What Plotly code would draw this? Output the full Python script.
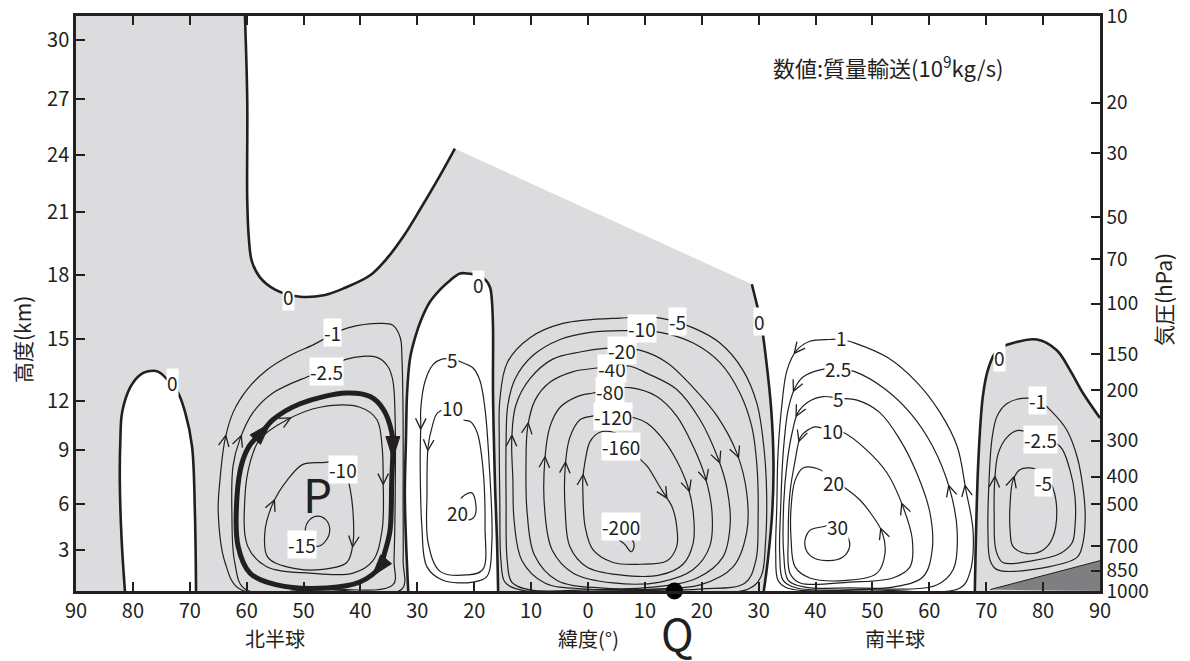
import math
import plotly.graph_objects as go

FONT = "Noto Sans CJK JP, Noto Sans, sans-serif"
INK = "#231f20"
GRAY = "#dcdcde"
DARK = "#7f7f82"
Z_TOP = 7.0 * math.log(100.0)   # log-pressure height of 10 hPa (H = 7 km)

# ---------------- axes ----------------
lat_ticks = [90, 80, 70, 60, 50, 40, 30, 20, 10, 0, -10, -20, -30, -40, -50, -60, -70, -80, -90]
lat_ticktext = [str(abs(v)) for v in lat_ticks]
km_labels = [3, 6, 9, 12, 15, 18, 21, 24, 27, 30]
km_label_z = [2.30, 4.88, 7.91, 10.66, 14.13, 17.72, 21.26, 24.45, 27.59, 30.90]
p_labels = [1000, 850, 700, 500, 400, 300, 200, 150, 100, 70, 50, 30, 20, 10]

# ---------------- zero contours (lat N+, log-p height km) ----------------
ZERO_NPOLE = [(81.4, 0), (82.0, 3.0), (82.3, 6.2), (82.2, 8.5), (81.9, 10.0), (80.5, 11.4), (78.8, 12.1),
              (77.5, 12.3), (75.6, 12.3), (73.5, 11.7), (72.2, 11.2), (70.8, 10.0), (69.6, 8.1), (69.1, 4.4), (68.9, 0)]
ZERO_UPPER = [(60.3, 32.25), (59.9, 27.5), (59.9, 21.9), (59.6, 19.7), (59.1, 18.5), (57.7, 17.6), (55.0, 16.9),
              (50.6, 16.5), (46.2, 16.6), (42.7, 17.0), (38.3, 17.7), (35.2, 18.7), (32.2, 20.0), (29.5, 21.4),
              (26.0, 23.3), (23.4, 24.8)]
ZERO_HADLEY_S = [(-28.8, 17.2), (-29.5, 16.3), (-30.4, 15.1), (-31.3, 13.0), (-32.2, 10.2), (-32.6, 7.3),
                 (-32.4, 4.5), (-31.6, 1.7), (-30.9, 0)]
ZERO_SPOLE = [(-68.0, 0), (-68.6, 7.2), (-69.4, 10.9), (-70.3, 12.4), (-71.9, 13.5), (-74.7, 13.9), (-78.9, 14.1),
              (-82.4, 13.5), (-84.7, 12.4), (-87.0, 11.1), (-90.0, 9.7)]
ZERO_30N = [(31.6, 0), (32.0, 2.9), (32.2, 5.5), (32.0, 8.5), (31.8, 11.1), (31.3, 13.0), (30.4, 14.2), (29.2, 15.3),
            (27.8, 16.2), (26.0, 16.9), (24.3, 17.4), (22.5, 17.8), (21.3, 17.8), (19.5, 17.7), (17.9, 17.4),
            (17.2, 17.0), (16.9, 16.3), (16.7, 14.8), (16.7, 11.1), (16.5, 7.9), (16.3, 5.5), (16.0, 2.9), (15.8, 0)]
TOPO = [(-70.7, 0.08), (-90.0, 1.7), (-90.0, 0.0)]

# ---------------- NH Ferrel cell ----------------
NHF_M1 = [(61.2, 0.11), (63.8, 1.6), (65.0, 4.4), (64.7, 6.2), (63.8, 8.5), (62.4, 10.0), (59.9, 11.3), (56.4, 12.4),
          (52.4, 13.2), (48.3, 13.8), (45.4, 14.3), (42.2, 14.75), (36.6, 15.0), (34.3, 14.9), (33.0, 14.2),
          (32.7, 13.0), (32.5, 9.6), (32.5, 5.1), (32.5, 1.7), (32.7, 0.11), (46.0, 0.08), (61.2, 0.11)]
NHF_M25 = [(60.3, 0.11), (62.1, 1.6), (62.6, 4.4), (62.4, 7.0), (61.2, 8.5), (58.9, 10.0), (55.4, 11.1), (49.4, 12.0),
           (45.9, 12.4), (42.4, 13.0), (37.1, 13.1), (35.2, 12.6), (34.3, 11.8), (33.9, 9.6), (33.9, 5.1),
           (34.1, 1.7), (34.3, 0.34), (47.0, 0.12), (60.3, 0.11)]
NHF_THICK = [(60.8, 7.2), (59.4, 8.2), (57.3, 8.9), (55.4, 9.6), (50.6, 10.5), (42.4, 11.1), (38.3, 10.9),
             (36.0, 10.2), (34.5, 8.9), (34.3, 8.1), (34.5, 6.2), (34.8, 3.4), (35.7, 2.2), (36.6, 1.35),
             (40.1, 0.5), (45.9, 0.17), (54.7, 0.34), (59.4, 1.0), (61.5, 2.5), (61.7, 5.3), (60.8, 7.2)]
NHF_M5 = [(59.4, 7.2), (57.7, 8.5), (52.9, 9.6), (47.1, 10.3), (40.1, 10.3), (37.1, 9.6), (36.2, 8.1), (36.0, 6.2),
          (36.2, 3.4), (37.8, 1.7), (41.3, 1.0), (48.9, 1.0), (56.4, 1.35), (59.8, 2.5), (60.3, 5.3), (59.4, 7.2)]
NHF_M10 = [(56.3, 1.9), (56.8, 3.3), (55.4, 4.9), (52.9, 6.2), (50.1, 7.1), (46.6, 7.2), (44.1, 7.2), (42.4, 6.4),
           (41.8, 5.7), (41.3, 4.4), (41.3, 2.7), (42.4, 1.6), (47.1, 1.2), (52.9, 1.35), (56.3, 1.9)]
NHF_M15 = [(49.7, 3.4), (48.9, 4.0), (47.5, 4.2), (46.1, 4.0), (45.4, 3.5), (45.9, 2.9), (47.5, 2.5), (48.9, 2.7),
           (49.7, 3.4)]

# ---------------- 30N positive cell ----------------
C30N_5 = [(21.3, 12.7), (23.9, 13.0), (25.7, 13.0), (27.2, 12.7), (28.6, 11.8), (29.4, 10.2), (29.4, 9.3),
          (29.5, 7.3), (29.2, 3.6), (28.3, 1.35), (25.5, 0.6), (20.2, 0.5), (17.8, 0.8), (16.9, 2.7), (17.4, 7.3),
          (18.1, 10.2), (19.0, 11.8), (20.2, 12.5), (21.3, 12.7)]
C30N_10 = [(22.0, 9.6), (23.9, 10.2), (26.4, 10.0), (27.4, 9.2), (28.1, 8.1), (28.3, 5.5), (28.1, 2.7), (26.0, 1.1),
           (21.3, 0.9), (18.5, 1.2), (18.1, 3.6), (18.5, 7.0), (19.5, 8.9), (20.7, 9.5), (22.0, 9.6)]
C30N_20 = [(22.5, 5.1), (21.6, 5.4), (20.4, 5.5), (19.7, 4.8), (19.9, 4.2), (20.7, 4.0), (22.2, 4.1), (22.9, 4.5),
           (22.5, 5.1)]

# ---------------- Hadley cell ----------------
H_M5 = [(11.9, 0.06), (14.6, 0.5), (15.3, 1.7), (15.5, 5.1), (15.6, 8.5), (15.5, 10.7), (14.2, 12.8), (10.2, 14.2),
        (4.4, 15.0), (-5.6, 15.3), (-12.7, 15.3), (-18.5, 14.75), (-23.2, 13.9), (-27.2, 12.4), (-29.7, 10.5),
        (-30.9, 8.1), (-31.4, 5.5), (-31.2, 2.7), (-30.4, 0.8), (-28.1, 0.1), (-9.1, 0.04), (11.9, 0.06)]
H_M10 = [(10.2, 0.06), (13.4, 0.5), (14.2, 1.7), (14.4, 5.1), (14.4, 8.3), (14.1, 10.4), (12.8, 11.9), (9.7, 13.2),
         (4.9, 14.1), (-0.4, 14.5), (-6.1, 14.6), (-12.7, 14.5), (-18.5, 13.9), (-23.2, 12.8), (-26.7, 11.1),
         (-28.8, 9.2), (-29.7, 7.0), (-29.9, 4.0), (-29.5, 1.7), (-27.6, 0.45), (-19.7, 0.11), (-2.1, 0.08),
         (10.2, 0.06)]
H_M20 = [(0.2, 0.11), (7.6, 0.45), (11.6, 1.7), (13.0, 4.0), (13.2, 6.2), (13.4, 8.5), (12.7, 10.4), (10.2, 11.9),
         (6.2, 13.0), (1.4, 13.4), (-3.0, 13.6), (-6.0, 13.6), (-9.1, 13.5), (-13.9, 12.8), (-18.5, 11.4),
         (-22.7, 9.8), (-26.2, 7.7), (-27.9, 5.5), (-27.9, 3.3), (-25.5, 1.35), (-19.7, 0.34), (-11.4, 0.11),
         (0.2, 0.11)]
H_M40 = [(-2.1, 0.17), (5.5, 0.6), (9.4, 2.0), (10.7, 4.4), (10.9, 7.0), (10.6, 9.2), (9.3, 10.7), (6.7, 11.7),
         (2.6, 12.3), (-1.6, 12.5), (-4.2, 12.6), (-7.4, 12.6), (-10.4, 12.2), (-15.6, 11.3), (-19.7, 9.6),
         (-22.9, 7.4), (-24.4, 5.8), (-25.0, 3.8), (-23.7, 1.9), (-19.2, 0.73), (-11.4, 0.22), (-2.1, 0.17)]
H_M80 = [(-4.4, 0.45), (2.6, 1.0), (6.3, 2.3), (7.6, 4.5), (7.6, 7.3), (6.7, 9.2), (4.9, 10.3), (1.9, 10.9),
         (-0.9, 11.1), (-3.9, 11.3), (-7.4, 11.4), (-12.1, 10.9), (-15.6, 9.8), (-18.5, 8.1), (-20.6, 6.4),
         (-21.8, 4.4), (-21.4, 2.5), (-18.5, 1.2), (-12.7, 0.5), (-4.4, 0.45)]
H_M120 = [(-5.6, 0.9), (0.2, 1.35), (3.2, 2.5), (4.0, 4.5), (4.0, 7.0), (3.2, 8.6), (1.4, 9.6), (-0.7, 9.8),
          (-4.4, 9.85), (-8.3, 9.7), (-10.4, 9.4), (-13.2, 8.5), (-15.6, 7.3), (-17.6, 5.8), (-18.5, 4.4),
          (-18.5, 2.7), (-16.7, 1.5), (-12.7, 0.9), (-5.6, 0.9)]
H_M160 = [(-4.4, 1.6), (-0.9, 2.3), (0.5, 3.6), (0.9, 5.5), (0.9, 6.3), (0.5, 7.3), (-0.4, 8.4), (-2.1, 8.9),
          (-4.4, 8.9), (-6.5, 8.5), (-8.8, 7.5), (-10.4, 7.0), (-12.7, 5.8), (-13.5, 5.4), (-14.8, 4.7),
          (-15.6, 3.6), (-15.6, 2.5), (-13.9, 1.7), (-9.1, 1.5), (-4.4, 1.6)]
H_M200 = [(-5.1, 3.0), (-6.5, 2.6), (-7.6, 2.2), (-8.1, 2.5), (-7.7, 2.9), (-6.3, 3.1), (-5.1, 3.0)]

# ---------------- SH positive cell ----------------
S_1 = [(-65.4, 0.17), (-67.1, 1.0), (-67.7, 3.3), (-66.4, 5.7), (-64.9, 8.1), (-61.9, 10.0), (-57.8, 11.7),
       (-52.6, 13.1), (-46.9, 13.9), (-44.6, 14.1), (-42.5, 14.1), (-39.0, 14.0), (-36.7, 13.5), (-35.0, 12.4),
       (-34.1, 10.5), (-33.4, 7.7), (-33.2, 4.9), (-33.0, 2.1), (-33.4, 0.6), (-35.0, 0.17), (-49.6, 0.06),
       (-65.4, 0.17)]
S_25 = [(-61.3, 0.34), (-64.2, 1.2), (-64.9, 3.3), (-63.6, 5.7), (-60.6, 8.1), (-56.6, 10.0), (-51.9, 11.4),
        (-46.9, 12.3), (-43.9, 12.5), (-40.8, 12.4), (-37.8, 12.0), (-36.4, 11.4), (-35.2, 10.2), (-34.3, 7.7),
        (-33.9, 4.9), (-33.7, 2.1), (-34.3, 0.6), (-36.7, 0.17), (-49.6, 0.11), (-61.3, 0.34)]
S_5 = [(-53.6, 0.22), (-58.9, 0.8), (-60.5, 2.3), (-60.1, 4.4), (-57.8, 6.6), (-54.8, 8.5), (-51.3, 10.0),
       (-47.3, 10.7), (-44.1, 10.8), (-41.3, 10.9), (-38.7, 10.6), (-36.9, 10.0), (-35.9, 8.9), (-35.0, 7.2),
       (-34.4, 4.9), (-34.4, 2.1), (-35.2, 0.6), (-38.1, 0.22), (-46.0, 0.17), (-53.6, 0.22)]
S_10 = [(-53.6, 0.73), (-56.6, 1.35), (-57.0, 2.9), (-55.4, 4.7), (-52.6, 6.6), (-49.0, 7.9), (-44.8, 8.9),
        (-42.5, 9.0), (-39.9, 9.2), (-38.1, 8.9), (-37.3, 8.6), (-36.4, 7.3), (-35.5, 5.5), (-35.2, 3.0),
        (-35.5, 1.0), (-37.3, 0.45), (-46.0, 0.5), (-53.6, 0.73)]
S_20 = [(-50.8, 1.0), (-52.2, 2.1), (-51.7, 3.3), (-49.6, 4.4), (-47.8, 5.1), (-45.5, 5.7), (-43.1, 6.2),
        (-40.8, 6.8), (-37.8, 6.9), (-36.4, 6.2), (-35.7, 4.7), (-35.7, 2.9), (-36.4, 1.35), (-39.0, 0.73),
        (-45.5, 0.6), (-50.8, 1.0)]
S_30 = [(-41.3, 3.6), (-39.0, 3.4), (-38.1, 2.7), (-39.0, 2.0), (-42.0, 1.7), (-44.8, 1.9), (-46.0, 2.5),
        (-45.7, 3.0), (-43.6, 3.75), (-41.3, 3.6)]

# ---------------- SH polar cell ----------------
P_M1 = [(-70.7, 1.7), (-70.3, 3.4), (-70.5, 6.2), (-71.0, 8.5), (-71.9, 9.8), (-73.6, 10.5), (-76.3, 10.8),
        (-79.1, 10.7), (-81.7, 10.0), (-84.2, 9.0), (-86.0, 7.5), (-87.0, 5.8), (-87.4, 4.2), (-87.0, 2.7),
        (-86.0, 1.9), (-80.0, 1.3), (-71.9, 1.2), (-70.7, 1.7)]
P_M25 = [(-71.7, 2.3), (-71.4, 4.2), (-71.5, 6.2), (-72.1, 7.7), (-73.6, 8.6), (-75.6, 9.0), (-79.5, 8.6),
         (-83.0, 8.1), (-84.7, 6.8), (-85.6, 5.3), (-85.6, 3.6), (-85.1, 2.7), (-83.0, 2.1), (-78.2, 1.7),
         (-72.9, 1.6), (-71.7, 2.3)]
P_M5 = [(-74.7, 2.5), (-74.2, 3.4), (-74.2, 4.9), (-74.7, 6.2), (-75.9, 6.8), (-77.7, 6.9), (-80.3, 6.6),
        (-81.7, 5.8), (-82.4, 4.5), (-81.7, 3.0), (-80.0, 2.3), (-77.2, 2.1), (-74.7, 2.5)]

THIN_CONTOURS = [NHF_M1, NHF_M25, NHF_M5, NHF_M10, NHF_M15, C30N_5, C30N_10, C30N_20,
                 H_M5, H_M10, H_M20, H_M40, H_M80, H_M120, H_M160, H_M200,
                 S_1, S_25, S_5, S_10, S_20, S_30, P_M1, P_M25, P_M5]

# flow arrows: (contour, vertex index); direction follows the vertex order
THIN_ARROWS = [(NHF_M1, 4), (NHF_M25, 4), (NHF_M5, 2), (NHF_M5, 7), (NHF_M10, 2), (NHF_M10, 10),
               (C30N_5, 6), (C30N_10, 4),
               (H_M20, 5), (H_M20, 16), (H_M40, 5), (H_M40, 15), (H_M80, 4), (H_M80, 14),
               (H_M120, 4), (H_M120, 13), (H_M160, 4), (H_M160, 13),
               (S_1, 12), (S_1, 3), (S_25, 11), (S_25, 3), (S_5, 11), (S_10, 10), (S_10, 3), (S_20, 2),
               (P_M25, 2), (P_M5, 3)]
THICK_ARROWS = [(NHF_THICK, 2), (NHF_THICK, 9), (NHF_THICK, 13)]

# contour value labels: (text, lat, height)
LABELS = [("0", 73.1, 11.7), ("0", 52.6, 16.5), ("0", 19.2, 17.2),
          ("-1", 45.0, 14.5), ("-2.5", 45.9, 12.3), ("-10", 43.1, 6.8), ("-15", 50.3, 2.6),
          ("5", 23.9, 13.0), ("10", 23.9, 10.3), ("20", 23.0, 4.4),
          ("-10", -9.5, 14.7), ("-5", -15.8, 15.1), ("-20", -6.0, 13.5), ("-40", -4.2, 12.5),
          ("-80", -3.9, 11.2), ("-120", -4.4, 9.8), ("-160", -5.8, 8.1), ("-200", -5.8, 3.6),
          ("0", -30.1, 15.1),
          ("1", -44.6, 14.2), ("2.5", -43.9, 12.5), ("5", -44.1, 10.8), ("10", -42.9, 9.0),
          ("20", -43.1, 6.1), ("30", -43.9, 3.6),
          ("0", -72.4, 13.1), ("-1", -79.1, 10.7), ("-2.5", -79.5, 8.5), ("-5", -80.0, 6.1)]

POINT_Q = (-15.2, 0.0)
POINT_P_LABEL = (47.5, 5.5)

# ---------------- layout geometry ----------------
PAGE_OFFSET = 8          # default body margin of the html page
FIG_W, FIG_H = 1190 - PAGE_OFFSET, 661 - PAGE_OFFSET
M_L, M_R, M_T, M_B = 76 - PAGE_OFFSET, 90, 16 - PAGE_OFFSET, 70
PLOT_W = FIG_W - M_L - M_R
PLOT_H = FIG_H - M_T - M_B
SX = PLOT_W / 180.0      # px per degree
SY = PLOT_H / Z_TOP      # px per km

fig = go.Figure()


def xs(pts):
    return [p[0] for p in pts]


def zs(pts):
    return [p[1] for p in pts]


def add_fill(pts, color, lw=0, lc=None):
    fig.add_trace(go.Scatter(x=xs(pts), y=zs(pts), mode="lines", fill="toself", fillcolor=color,
                             line=dict(width=lw, color=lc or color), hoverinfo="skip", showlegend=False))


def add_line(pts, width, shape="spline"):
    fig.add_trace(go.Scatter(x=xs(pts), y=zs(pts), mode="lines",
                             line=dict(color=INK, width=width, shape=shape, smoothing=1.0),
                             hoverinfo="skip", showlegend=False))


def tangent(pts, i):
    a = pts[i - 1]
    b = pts[i + 1] if i + 1 < len(pts) else pts[i]
    dx = -(b[0] - a[0]) * SX       # screen x grows as latitude decreases
    dy = (b[1] - a[1]) * SY
    n = math.hypot(dx, dy) or 1.0
    return dx / n, dy / n


def offset(p, dx, dy):
    return (p[0] - dx / SX, p[1] + dy / SY)


# white (positive) regions
upper_region = ZERO_UPPER + ZERO_HADLEY_S + ZERO_SPOLE + [(-90.0, Z_TOP + 1), (ZERO_UPPER[0][0], Z_TOP + 1)]
add_fill(upper_region, "white")
add_fill(ZERO_NPOLE, "white")
add_fill(ZERO_30N, "white")
# topography
add_fill(TOPO, DARK)
add_line(TOPO[:2], 1.0, "linear")

# zero contours
for zc in [ZERO_NPOLE, ZERO_UPPER, ZERO_HADLEY_S, ZERO_SPOLE, ZERO_30N]:
    add_line(zc, 2.6)

# thin contours
for c in THIN_CONTOURS:
    add_line(c, 1.2)

# highlighted circulation
add_line(NHF_THICK, 5.0)

# open chevron arrowheads on thin streamlines
cx, cy = [], []
L, TH = 12.0, math.radians(26)
for pts, i in THIN_ARROWS:
    h = pts[i]
    ux, uy = tangent(pts, i)
    tip = offset(h, ux * 4, uy * 4)
    wings = []
    for s in (1, -1):
        c, sn = math.cos(s * TH), math.sin(s * TH)
        rx, ry = ux * c - uy * sn, ux * sn + uy * c
        wings.append(offset(tip, -rx * L, -ry * L))
    for p in (wings[0], tip, wings[1]):
        cx.append(p[0]); cy.append(p[1])
    cx.append(None); cy.append(None)
fig.add_trace(go.Scatter(x=cx, y=cy, mode="lines", line=dict(color=INK, width=1.3),
                         hoverinfo="skip", showlegend=False))

# bold filled arrowheads on the highlighted circulation
for pts, i in THICK_ARROWS:
    h = pts[i]
    ux, uy = tangent(pts, i)
    tip = offset(h, ux * 12, uy * 12)
    base = offset(h, -ux * 10, -uy * 10)
    left = offset(base, -uy * 7, ux * 7)
    right = offset(base, uy * 7, -ux * 7)
    add_fill([tip, left, right, tip], INK, 1, INK)

# point Q
fig.add_trace(go.Scatter(x=[POINT_Q[0]], y=[POINT_Q[1]], mode="markers", cliponaxis=False,
                         marker=dict(size=17, color="black"), hoverinfo="skip", showlegend=False))

# invisible trace for the pressure axis
fig.add_trace(go.Scatter(x=[0], y=[0], yaxis="y2", mode="markers", marker=dict(opacity=0),
                         hoverinfo="skip", showlegend=False))

# value labels, drawn from low to high so upper boxes sit on top of lower ones
for text, la, z in sorted(LABELS, key=lambda t: t[2]):
    fig.add_annotation(x=la, y=z, text=text, showarrow=False, bgcolor="white", borderpad=0,
                       font=dict(size=19, family=FONT, color=INK))

fig.add_annotation(x=POINT_P_LABEL[0], y=POINT_P_LABEL[1], text="P", showarrow=False,
                   font=dict(size=46, family=FONT, color=INK))


def py(px_from_plot_bottom):
    return px_from_plot_bottom / PLOT_H


def px_x(px):
    return (px - 76) / PLOT_W


fig.add_annotation(x=-15.8, xref="x", y=py(-41), yref="paper", text="Q", showarrow=False,
                   xanchor="center", yanchor="middle", font=dict(size=44, family=FONT, color=INK))
fig.add_annotation(x=-52.7, y=29.4, text="数値:質量輸送(10<sup>9</sup>kg/s)", showarrow=False,
                   font=dict(size=22, family=FONT, color=INK))
for text, la in [("北半球", 55.0), ("緯度(°)", 0.0), ("南半球", -54.0)]:
    fig.add_annotation(x=la, xref="x", y=py(-47), yref="paper", text=text, showarrow=False,
                       xanchor="center", yanchor="middle", font=dict(size=20, family=FONT, color=INK))
fig.add_annotation(x=px_x(22), xref="paper", y=py(251), yref="paper", text="高度(km)", textangle=-90,
                   xanchor="center", yanchor="middle", showarrow=False,
                   font=dict(size=21, family=FONT, color=INK))
fig.add_annotation(x=px_x(1163), xref="paper", y=py(291), yref="paper", text="気圧(hPa)", textangle=-90,
                   xanchor="center", yanchor="middle", showarrow=False,
                   font=dict(size=21, family=FONT, color=INK))

axis_common = dict(ticks="inside", ticklen=9, tickwidth=2, tickcolor=INK, showline=True, linewidth=2.5,
                   linecolor=INK, showgrid=False, zeroline=False, automargin=False,
                   ticklabeloverflow="allow",
                   tickfont=dict(size=20, family=FONT, color=INK))
yr = [-0.0005, Z_TOP + 0.0005]
fig.update_layout(
    width=FIG_W, height=FIG_H, margin=dict(l=M_L, r=M_R, t=M_T, b=M_B, autoexpand=False),
    paper_bgcolor="white", plot_bgcolor=GRAY, showlegend=False,
    xaxis=dict(range=[90, -90], tickvals=lat_ticks, ticktext=lat_ticktext, mirror="ticks", **axis_common),
    yaxis=dict(range=yr, tickvals=km_label_z, ticktext=[str(v) for v in km_labels], mirror=True, **axis_common),
    yaxis2=dict(range=yr, overlaying="y", side="right",
                tickvals=[7.0 * math.log(1000.0 / p) for p in p_labels],
                ticktext=[str(p) for p in p_labels],
                **{**axis_common, "tickfont": dict(size=19, family=FONT, color=INK)}),
)

fig.write_html("out.html")
